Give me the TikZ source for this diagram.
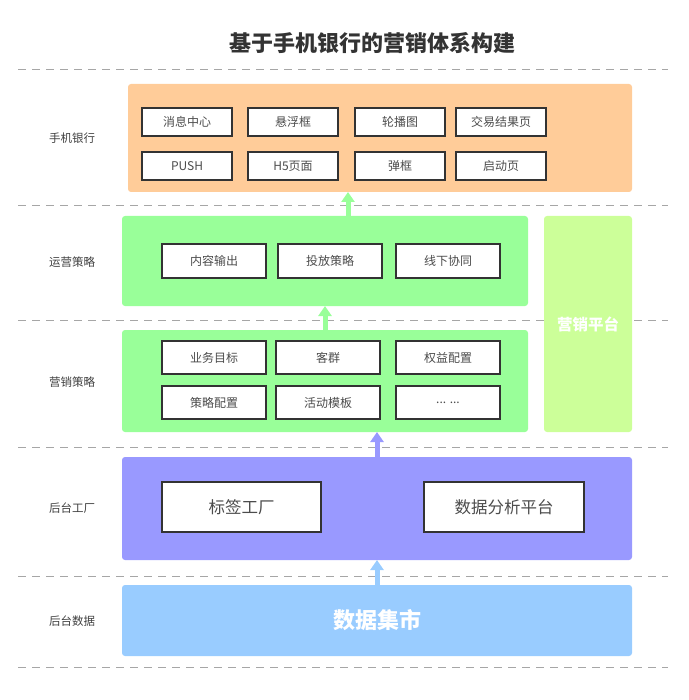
\documentclass[tikz,border=0pt]{standalone}
\usepackage{fontspec}
\setmainfont{Noto Sans CJK SC}
\usepackage{xcolor}
\usetikzlibrary{positioning,arrows.meta}

\definecolor{peach}{HTML}{FFCC99}
\definecolor{mint}{HTML}{99FF99}
\definecolor{lime}{HTML}{CCFF99}
\definecolor{lilac}{HTML}{9999FF}
\definecolor{sky}{HTML}{99CCFF}
\definecolor{ink}{HTML}{333333}

\begin{document}
\begin{tikzpicture}[x=1pt, y=-1pt,
  layer/.style={fill=#1, rounded corners=3pt, inner sep=0pt, outer sep=0pt},
  card/.style={draw=ink, line width=1.3pt, fill=white, inner sep=0pt, outer sep=0pt,
    text=black!70, font=\fontsize{12}{14}\selectfont},
  side/.style={text=black!75, font=\fontsize{11.5}{13}\selectfont},
  sep/.style={draw=black!35, line width=1pt, dash pattern=on 8pt off 6pt},
  up/.style={draw=#1, line width=5pt, -{Triangle[width=13pt,length=10pt]}}]

\useasboundingbox (0,0) rectangle (688,700);

% title
\node[font=\fontsize{22}{26}\selectfont\bfseries, text=ink] (title) at (372,43) {基于手机银行的营销体系构建};

% separators
\foreach \y in {70,206,320,447,576,667}
  \draw[sep] (18,\y) -- (668,\y);

% layers
\node[layer=peach, minimum width=504pt, minimum height=108pt] (app) at (380,138) {};
\node[layer=mint, minimum width=406pt, minimum height=90pt] (ops) at (325,261) {};
\node[layer=mint, minimum width=406pt, minimum height=102pt] (mkt) at (325,381) {};
\node[layer=lime, minimum width=88pt, minimum height=216pt, text=white,
  font=\fontsize{15.5}{18}\selectfont\bfseries] (plat) at (588,324) {营销平台};
\node[layer=lilac, minimum width=510pt, minimum height=103pt] (fac) at (377,508.5) {};
\node[layer=sky, minimum width=510pt, minimum height=71pt, text=white,
  font=\fontsize{22}{26}\selectfont\bfseries] (data) at (377,620.5) {数据集市};

% side labels
\node[side] (lapp) at (72,138) {手机银行};
\node[side] (lops) at (72,262) {运营策略};
\node[side] (lmkt) at (72,382) {营销策略};
\node[side] (lfac) at (72,508) {后台工厂};
\node[side] (ldata) at (72,621) {后台数据};

% mobile banking
\node[card, minimum width=90pt, minimum height=28pt] (msg) at (187,122) {消息中心};
\node[card, minimum width=90pt, minimum height=28pt] (float) at (293,122) {悬浮框};
\node[card, minimum width=90pt, minimum height=28pt] (banner) at (400,122) {轮播图};
\node[card, minimum width=90pt, minimum height=28pt] (result) at (501,122) {交易结果页};
\node[card, minimum width=90pt, minimum height=28pt] (push) at (187,166) {PUSH};
\node[card, minimum width=90pt, minimum height=28pt] (hfive) at (293,166) {H5页面};
\node[card, minimum width=90pt, minimum height=28pt] (popup) at (400,166) {弹框};
\node[card, minimum width=90pt, minimum height=28pt] (splash) at (501,166) {启动页};

% operation
\node[card, minimum width=104pt, minimum height=34pt] (content) at (214,261) {内容输出};
\node[card, minimum width=104pt, minimum height=34pt] (deliver) at (330,261) {投放策略};
\node[card, minimum width=104pt, minimum height=34pt] (offline) at (448,261) {线下协同};

% marketing
\node[card, minimum width=104pt, minimum height=33pt] (goal) at (214,357.5) {业务目标};
\node[card, minimum width=104pt, minimum height=33pt] (group) at (328,357.5) {客群};
\node[card, minimum width=104pt, minimum height=33pt] (rights) at (448,357.5) {权益配置};
\node[card, minimum width=104pt, minimum height=33pt] (policy) at (214,402.5) {策略配置};
\node[card, minimum width=104pt, minimum height=33pt] (tmpl) at (328,402.5) {活动模板};
\node[card, minimum width=104pt, minimum height=33pt] (more) at (448,402.5) {... ...};

% factory
\node[card, minimum width=159pt, minimum height=50pt, font=\fontsize{16.5}{20}\selectfont] (tag) at (241.5,507) {标签工厂};
\node[card, minimum width=160pt, minimum height=50pt, font=\fontsize{16.5}{20}\selectfont] (ana) at (504,507) {数据分析平台};

% arrows
\coordinate (a1) at (348,0);
\coordinate (a2) at (325,0);
\coordinate (a3) at (377,0);
\draw[up=mint] (ops.north -| a1) -- (app.south -| a1);
\draw[up=mint] (mkt.north -| a2) -- (ops.south -| a2);
\draw[up=lilac] (fac.north -| a3) -- (mkt.south -| a3);
\draw[up=sky] (data.north -| a3) -- (fac.south -| a3);

\end{tikzpicture}
\end{document}
